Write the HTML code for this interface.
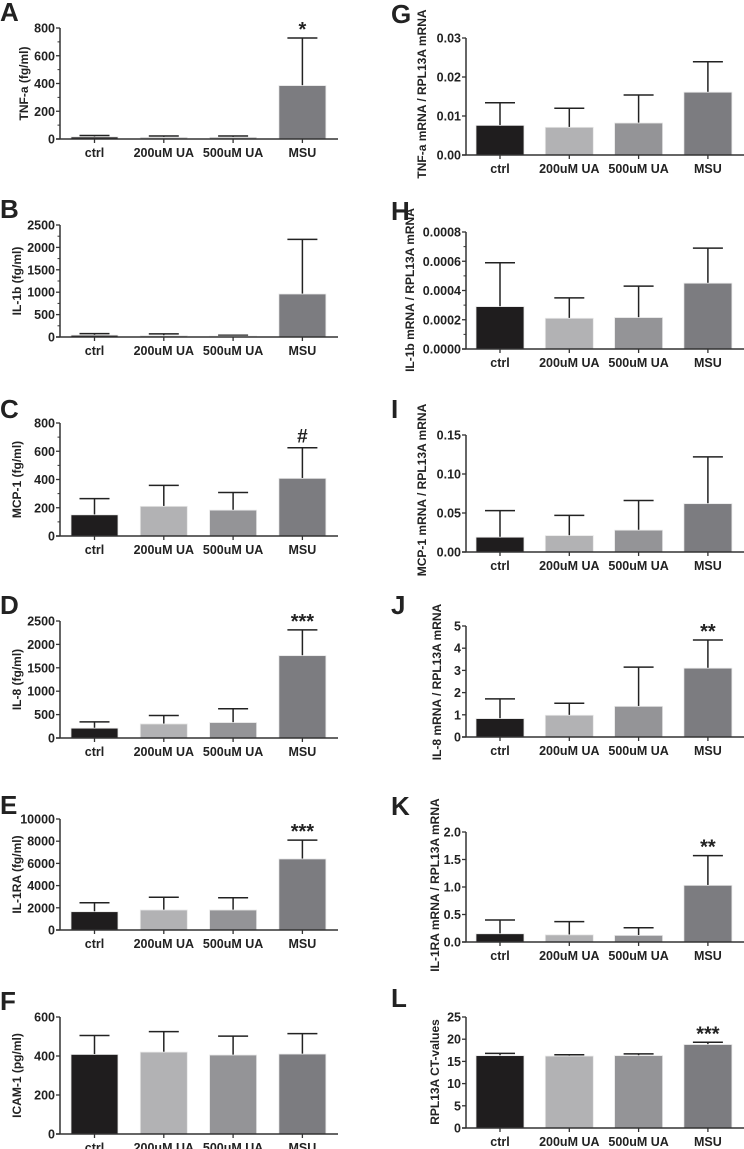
<!DOCTYPE html>
<html><head><meta charset="utf-8"><style>
html,body{margin:0;padding:0;background:#fff;}
svg{display:block;font-family:"Liberation Sans",Arial,sans-serif;}
</style></head><body>
<svg id="fig" width="744" height="1149" viewBox="0 0 744 1149" xmlns="http://www.w3.org/2000/svg"></svg>
<script>
const categories = ["ctrl","200uM UA","500uM UA","MSU"];
const colors = ["#1f1d1e","#b2b2b4","#949497","#7c7c80"];
const meansA=[15,12,12,385], errA=[25,22,22,728];
const meansB=[40,30,20,960], errB=[75,70,40,2180];
const meansC=[150,210,183,408], errC=[265,358,308,625];
const meansD=[210,300,330,1760], errD=[345,480,625,2310];
const meansE=[1650,1800,1800,6400], errE=[2450,2950,2900,8100];
const meansF=[408,420,405,410], errF=[505,525,502,515];
const meansG=[0.0076,0.0071,0.0082,0.0161], errG=[0.0134,0.0120,0.0154,0.0239];
const meansH=[0.00029,0.00021,0.000215,0.00045], errH=[0.00059,0.00035,0.00043,0.00069];
const meansI=[0.019,0.021,0.028,0.062], errI=[0.053,0.047,0.066,0.122];
const meansJ=[0.83,0.98,1.38,3.1], errJ=[1.72,1.52,3.15,4.37];
const meansK=[0.15,0.13,0.12,1.03], errK=[0.40,0.37,0.26,1.57];
const meansL=[16.3,16.2,16.3,18.8], errL=[16.8,16.5,16.7,19.3];
const ticksA=[0,200,400,600,800], ticksB=[0,500,1000,1500,2000,2500], ticksC=[0,200,400,600,800];
const ticksD=[0,500,1000,1500,2000,2500], ticksE=[0,2000,4000,6000,8000,10000], ticksF=[0,200,400,600];
const ticksG=["0.00","0.01","0.02","0.03"], ticksH=["0.0000","0.0002","0.0004","0.0006","0.0008"];
const ticksI=["0.00","0.05","0.10","0.15"], ticksJ=["0","1","2","3","4","5"];
const ticksK=["0.0","0.5","1.0","1.5","2.0"], ticksL=["0","5","10","15","20","25"];
const sigA=["","","","*"], sigC=["","","","#"], sigD=["","","","***"], sigE=["","","","***"];
const sigJ=["","","","**"], sigK=["","","","**"], sigL=["","","","***"], sigNone=["","","",""];

const NS="http://www.w3.org/2000/svg";
const svg=document.getElementById('fig');
function mk(tag,attrs,parent,text){const e=document.createElementNS(NS,tag);for(const k in attrs)e.setAttribute(k,attrs[k]);if(text!==undefined)e.textContent=text;(parent||svg).appendChild(e);return e;}

function panel(p){
  const g=mk('g',{});
  
  
  const ticks=p.ticks.map(Number);
  const vmax=ticks[ticks.length-1];
  const y=v=>p.y0-(v/vmax)*(p.y0-p.yTop);
  const lt=mk('text',{x:p.lx,y:p.ly,'font-size':26,'font-weight':'bold',fill:'#222'},g,p.letter);
  
  
  // bars
  for(let i=0;i<4;i++){
    const x0=p.ax+p.b0+i*p.step, cx=x0+p.bw/2;
    const top=y(p.err[i]), my=y(p.means[i]);
    const el=mk('line',{x1:cx,y1:my,x2:cx,y2:top,stroke:'#222','stroke-width':1.5},g);
    
    
    const cap=mk('line',{x1:cx-15,y1:top,x2:cx+15,y2:top,stroke:'#222','stroke-width':1.5},g);
    
    
    const r=mk('rect',{x:x0,y:my,width:p.bw,height:p.y0-my,fill:colors[i],stroke:'#e8e8e8','stroke-width':0.8},g);
    
    
    if(p.sig[i]){
      const s=mk('text',{x:cx,y:top-(p.sig[i]==='#'?6:4)+(p.sig[i]==='#'?0:8),'font-size':p.sig[i]==='#'?19:20,'font-weight':'bold','text-anchor':'middle',fill:'#222'},g,p.sig[i]);
      if(p.sig[i]==='#') s.setAttribute('y',top-5);
      else s.setAttribute('y',top-4+10);
      if(p.sig[i]!=='#') s.setAttribute('y',top-2);
      
      
    }
    const tk=mk('line',{x1:cx,y1:p.y0,x2:cx,y2:p.y0+4,stroke:'#333','stroke-width':1.3},g);
    
    
    const cl=mk('text',{x:cx,y:p.y0+18,'font-size':12.5,'font-weight':'bold','text-anchor':'middle',fill:'#222'},g,categories[i]);
    
    
  }
  // axes
  const ya=mk('line',{x1:p.ax,y1:p.yTop,x2:p.ax,y2:p.y0,stroke:'#333','stroke-width':1.5},g);
  
  
  const xa=mk('line',{x1:p.ax-4,y1:p.y0,x2:p.xEnd,y2:p.y0,stroke:'#333','stroke-width':1.5},g);
  
  
  for(let t=0;t<ticks.length;t++){
    const ty=y(ticks[t]);
    const tl=mk('line',{x1:p.ax-4,y1:ty,x2:p.ax,y2:ty,stroke:'#333','stroke-width':1.3},g);
    
    
    const tt=mk('text',{x:p.ax-5,y:ty+4.5,'font-size':12.5,'font-weight':'bold','text-anchor':'end',fill:'#222'},g,p.ticks[t]);
    
    
    if(p.minor && t<ticks.length-1){
      const my=y((ticks[t]+ticks[t+1])/2);
      const ml=mk('line',{x1:p.ax-2.5,y1:my,x2:p.ax,y2:my,stroke:'#333','stroke-width':1},g);
      
      
    }
  }
  const cy=p.tcy!==undefined?p.tcy:(p.y0+p.yTop)/2;
  const yt=mk('text',{x:p.tx,y:cy,'font-size':p.tfs||12,'font-weight':'bold','text-anchor':'middle',fill:'#222',transform:`rotate(-90 ${p.tx} ${cy})`},g,p.title);
  
  
}
const L={ax:60,xEnd:338,b0:11,bw:47,step:69.3};
const R={ax:466,xEnd:744,b0:10,bw:48,step:69.3};
panel({...L,letter:'A',lx:0,ly:21,yTop:28,y0:139,ticks:ticksA,means:meansA,err:errA,sig:sigA,minor:true,tx:28,title:'TNF-a  (fg/ml)'});
panel({...L,letter:'B',lx:0,ly:218,yTop:225,y0:337,ticks:ticksB,means:meansB,err:errB,sig:sigNone,minor:true,tx:21,title:'IL-1b (fg/ml)'});
panel({...L,letter:'C',lx:0,ly:418,yTop:423,y0:536,ticks:ticksC,means:meansC,err:errC,sig:sigC,minor:true,tx:21,title:'MCP-1  (fg/ml)'});
panel({...L,letter:'D',lx:0,ly:614,yTop:621,y0:738,ticks:ticksD,means:meansD,err:errD,sig:sigD,tx:21,title:'IL-8  (fg/ml)'});
panel({...L,letter:'E',lx:0,ly:814,yTop:819,y0:930,ticks:ticksE,means:meansE,err:errE,sig:sigE,tx:21,title:'IL-1RA (fg/ml)'});
panel({...L,letter:'F',lx:0,ly:1010,yTop:1017,y0:1134,ticks:ticksF,means:meansF,err:errF,sig:sigNone,tx:21,title:'ICAM-1 (pg/ml)'});
panel({...R,letter:'G',lx:391,ly:23,yTop:38,y0:155,ticks:ticksG,means:meansG,err:errG,sig:sigNone,tx:426,tcy:94,title:'TNF-a mRNA / RPL13A mRNA'});
panel({...R,letter:'H',lx:391,ly:220,yTop:232,y0:349,ticks:ticksH,means:meansH,err:errH,sig:sigNone,minor:true,tx:414,tcy:290,title:'IL-1b mRNA / RPL13A mRNA'});
panel({...R,letter:'I',lx:391,ly:418,yTop:435,y0:552,ticks:ticksI,means:meansI,err:errI,sig:sigNone,tx:426,tcy:490,title:'MCP-1 mRNA / RPL13A mRNA'});
panel({...R,letter:'J',lx:391,ly:614,yTop:626,y0:737,ticks:ticksJ,means:meansJ,err:errJ,sig:sigJ,tx:441,tcy:682,title:'IL-8 mRNA / RPL13A mRNA'});
panel({...R,letter:'K',lx:391,ly:815,yTop:832,y0:942,ticks:ticksK,means:meansK,err:errK,sig:sigK,tx:439,tcy:885,title:'IL-1RA mRNA / RPL13A mRNA'});
panel({...R,letter:'L',lx:391,ly:1007,yTop:1017,y0:1128,ticks:ticksL,means:meansL,err:errL,sig:sigL,tx:439,tcy:1072,title:'RPL13A CT-values'});
</script>
</body></html>
